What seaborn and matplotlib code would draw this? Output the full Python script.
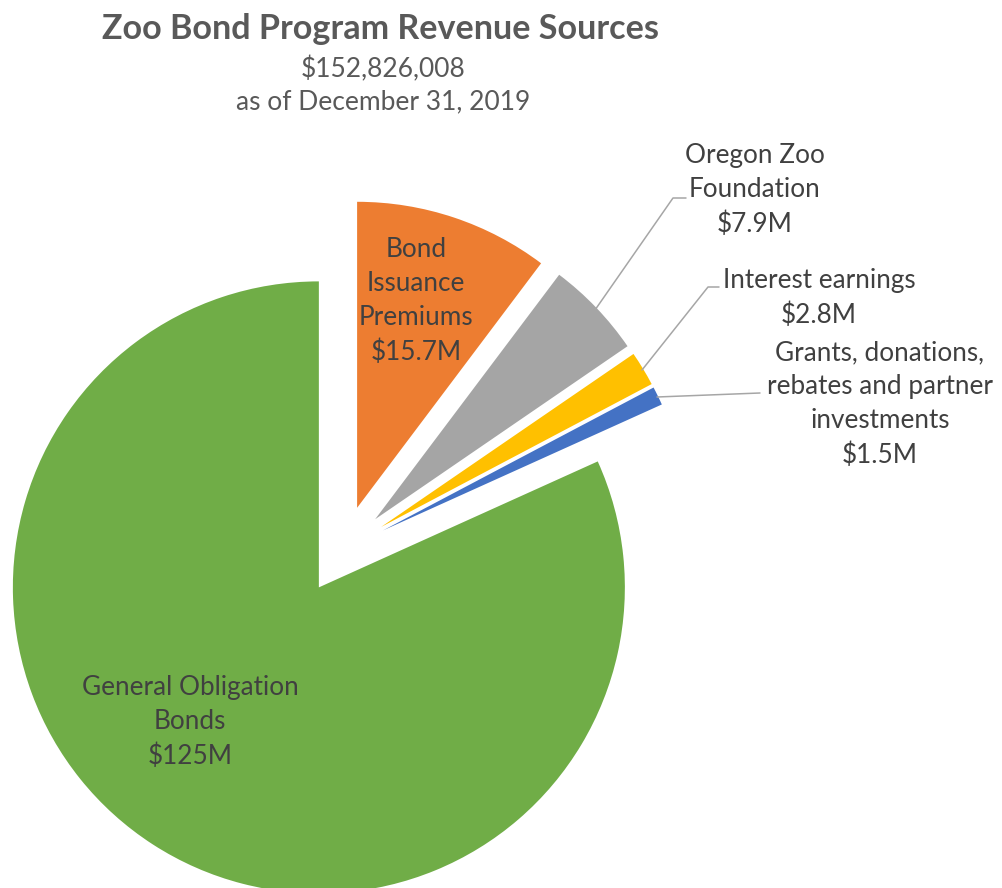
import matplotlib
matplotlib.use("Agg")
import matplotlib.pyplot as plt
import seaborn as sns

# revenue sources, in pie order (clockwise from 12 o'clock)
sources = ["Bond Issuance Premiums", "Oregon Zoo Foundation", "Interest earnings",
           "Grants, donations, rebates and partner investments", "General Obligation Bonds"]
amounts = [15.7, 7.9, 2.8, 1.5, 125.0]  # $M
amount_labels = ["$15.7M", "$7.9M", "$2.8M", "$1.5M", "$125M"]
total_label = "$152,826,008"
as_of = "as of December 31, 2019"

colors = ["#ED7D31", "#A5A5A5", "#FFC000", "#4472C4", "#70AD47"]

sns.set_theme(style="white")
plt.rcParams["font.family"] = ["Lato", "DejaVu Sans"]

W, H = 1003, 888
fig = plt.figure(figsize=(W / 100, H / 100), dpi=100)
ax = fig.add_axes([0, 0, 1, 1])


def py(y):
    return H - y


# every slice pulled out by the same distance (in pixels, radius 306)
ax.pie(amounts, colors=colors, startangle=90, counterclock=False,
       center=(343, py(550)), radius=306,
       explode=[44.5] * len(amounts),
       wedgeprops=dict(linewidth=0))
ax.set_xlim(0, W)
ax.set_ylim(0, H)
ax.set_aspect("auto")
ax.axis("off")

txt = "#404040"
fs = 18.8
ls = 1.46

ax.text(381, py(29), "Zoo Bond Program Revenue Sources", ha="center", va="center",
        fontsize=24.6, fontweight="bold", color="#595959")
ax.text(383, py(69), total_label, ha="center", va="center", fontsize=19, color="#595959")
ax.text(383, py(102), as_of, ha="center", va="center", fontsize=19, color="#595959")

ax.text(416, py(301), "Bond\nIssuance\nPremiums\n" + amount_labels[0], ha="center",
        va="center", fontsize=fs, color=txt, linespacing=ls)
ax.text(755, py(190), "Oregon Zoo\nFoundation\n" + amount_labels[1], ha="center",
        va="center", fontsize=fs, color=txt, linespacing=ls)
ax.text(819, py(298), "Interest earnings\n" + amount_labels[2], ha="center",
        va="center", fontsize=fs, color=txt, linespacing=ls)
ax.text(880, py(404), "Grants, donations,\nrebates and partner\ninvestments\n" + amount_labels[3],
        ha="center", va="center", fontsize=fs, color=txt, linespacing=ls)
ax.text(190, py(722), "General Obligation\nBonds\n" + amount_labels[4], ha="center",
        va="center", fontsize=fs, color=txt, linespacing=ls)

lc = "#A6A6A6"
ax.plot([595, 673, 686], [py(310), py(198), py(198)], color=lc, lw=1.1)
ax.plot([642, 708, 719], [py(370), py(287), py(287)], color=lc, lw=1.1)
ax.plot([657, 760], [py(397), py(393)], color=lc, lw=1.1)

fig.savefig("out.png", dpi=100)
